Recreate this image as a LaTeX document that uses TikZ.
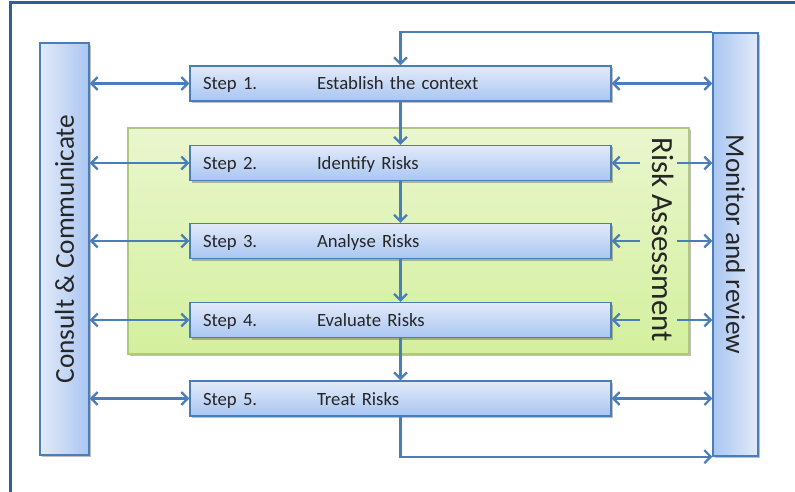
\documentclass[tikz,border=0pt]{standalone}
\usepackage{fontspec}
\setmainfont{Carlito}
\usetikzlibrary{arrows.meta,shadows}
\definecolor{frameblue}{HTML}{2F5E98}
\definecolor{lineblue}{HTML}{4A7EBB}
\definecolor{boxtop}{HTML}{E2EAF9}
\definecolor{boxbot}{HTML}{A9C6F2}
\definecolor{greentop}{HTML}{EAF6CE}
\definecolor{greenbot}{HTML}{D3F09D}
\definecolor{greenedge}{HTML}{B0C77E}
\newcommand{\steplabel}[2]{\makebox[114pt][l]{Step #1.}#2}
\begin{document}
\begin{tikzpicture}[x=1pt,y=-1pt,>={Straight Barb[length=6.5pt,width=13pt]},
  link/.style={draw=lineblue,line width=2.2pt},
  boxshadow/.style={drop shadow={shadow xshift=1.5pt,shadow yshift=-2pt,opacity=0.25,fill=black}},
  stepbox/.style={draw=lineblue,line width=1.3pt,top color=boxtop,bottom color=boxbot,boxshadow,
    text width=395pt,inner xsep=13pt,minimum height=35pt,align=left,text=black!85,
    font=\fontsize{18.7}{22}\selectfont,text height=13pt,text depth=0pt},
  sidebox/.style={draw=lineblue,line width=1.3pt,boxshadow,inner sep=0pt},
  sidetext/.style={text=black!85,font=\fontsize{27.3}{30}\selectfont},
  zone/.style={draw=greenedge,line width=1.3pt,top color=greentop,bottom color=greenbot,boxshadow}]
\useasboundingbox (0,0) rectangle (795,492);
\draw[frameblue,line width=3pt] (10,492) -- (10,3) -- (795,3);
% risk assessment zone
\fill[zone] (128,128) rectangle (689,354);
\draw[greenedge,line width=1.3pt] (128,128) rectangle (689,354);
\node[sidetext,rotate=-90,font=\fontsize{30.8}{33}\selectfont] (ra) at (663,239.5) {Risk Assessment};
\coordinate (gapl) at (640,0);
\coordinate (gapr) at (677,0);
% side boxes
\node[sidebox,left color=boxtop,right color=boxbot,minimum width=49pt,minimum height=412pt] (cc) at (64.5,249) {};
\node[sidetext,rotate=90] at (cc) {Consult \& Communicate};
\node[sidebox,left color=boxbot,right color=boxtop,minimum width=45pt,minimum height=423pt] (mr) at (735.5,244.5) {};
\node[sidetext,rotate=-90] at (mr) {Monitor and review};
% steps
\node[stepbox] (s1) at (400.5,83.5) {\steplabel{1}{Establish the context}};
\node[stepbox] (s2) at (400.5,163) {\steplabel{2}{Identify Risks}};
\node[stepbox] (s3) at (400.5,241) {\steplabel{3}{Analyse Risks}};
\node[stepbox] (s4) at (400.5,320) {\steplabel{4}{Evaluate Risks}};
\node[stepbox] (s5) at (400.5,398.5) {\steplabel{5}{Treat Risks}};
% flow down
\draw[link,->] (mr.north west) -- (mr.north west -| s1.north) -- (s1.north);
\draw[link,->] (s1.south) -- (s2.north);
\draw[link,->] (s2.south) -- (s3.north);
\draw[link,->] (s3.south) -- (s4.north);
\draw[link,->] (s4.south) -- (s5.north);
\draw[link,->] (s5.south) |- (mr.south west);
% consult
\draw[link,<->] (cc.east |- s1.west) -- (s1.west);
\draw[link,<->] (cc.east |- s2.west) -- (s2.west);
\draw[link,<->] (cc.east |- s3.west) -- (s3.west);
\draw[link,<->] (cc.east |- s4.west) -- (s4.west);
\draw[link,<->] (cc.east |- s5.west) -- (s5.west);
% monitor
\draw[link,<->] (s1.east) -- (mr.west |- s1.east);
\draw[link,<-] (s2.east) -- (gapl |- s2.east);
\draw[link,->] (gapr |- s2.east) -- (mr.west |- s2.east);
\draw[link,<-] (s3.east) -- (gapl |- s3.east);
\draw[link,->] (gapr |- s3.east) -- (mr.west |- s3.east);
\draw[link,<-] (s4.east) -- (gapl |- s4.east);
\draw[link,->] (gapr |- s4.east) -- (mr.west |- s4.east);
\draw[link,<->] (s5.east) -- (mr.west |- s5.east);
\end{tikzpicture}
\end{document}
